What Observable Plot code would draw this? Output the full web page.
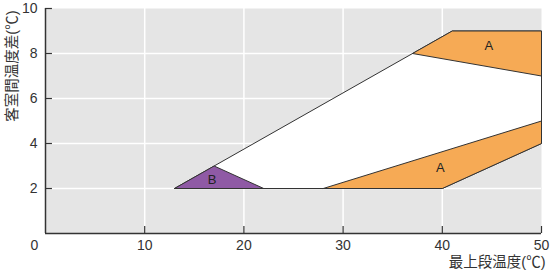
<!DOCTYPE html>
<html><head><meta charset="utf-8">
<script src="https://cdn.jsdelivr.net/npm/d3@7"></script>
<script src="https://cdn.jsdelivr.net/npm/@observablehq/plot@0.6"></script>
<style>
body{margin:0;background:#fff;}
svg{font-family:"Liberation Sans","Noto Sans CJK JP",sans-serif;}
</style></head>
<body><div id="chart"></div>
<script>
const xTicks = [10, 20, 30, 40, 50];
const yTicks = [2, 4, 6, 8, 10];
const xGrid = [10, 20, 30, 40];
const yGrid = [2, 4, 6, 8];
const xLabel = "最上段温度(℃)";
const yLabel = "客室間温度差(℃)";

// polygons: [x list, y list]
const regionWhiteX = [13, 41, 50, 50, 40, 13];
const regionWhiteY = [2, 9, 9, 4, 2, 2];
const regionATopX = [37, 41, 50, 50, 37];
const regionATopY = [8, 9, 9, 7, 8];
const regionABotX = [28, 40, 50, 50, 28];
const regionABotY = [2, 2, 4, 5, 2];
const regionBX = [13, 17, 22, 13];
const regionBY = [2, 3, 2, 2];

const labelNames = ["A", "A", "B"];
const labelX = [44.7, 39.8, 16.8];
const labelY = [8.35, 2.9, 2.4];

const pts = (xs, ys) => xs.map((x, i) => ({x, y: ys[i]}));
const labels = labelNames.map((t, i) => ({t, x: labelX[i], y: labelY[i]}));

const poly = (xs, ys, fill) => Plot.line(pts(xs, ys), {x: "x", y: "y", fill, stroke: "#333", strokeWidth: 1, curve: "linear"});

const chart = Plot.plot({
  width: 550, height: 272,
  marginLeft: 45, marginRight: 9, marginTop: 8, marginBottom: 39,
  x: {domain: [0, 50], axis: null},
  y: {domain: [0, 10], axis: null},
  marks: [
    Plot.frame({fill: "#e5e5e5", stroke: "none"}),
    Plot.gridY(yGrid, {stroke: "#fff", strokeOpacity: 1, strokeWidth: 1.5}),
    Plot.gridX(xGrid, {stroke: "#fff", strokeOpacity: 1, strokeWidth: 1.5}),
    poly(regionWhiteX, regionWhiteY, "#fff"),
    poly(regionATopX, regionATopY, "#f6aa55"),
    poly(regionABotX, regionABotY, "#f6aa55"),
    poly(regionBX, regionBY, "#8f5aa5"),
    Plot.text(labels, {x: "x", y: "y", text: "t", fontSize: 13, fill: "#222"}),
    Plot.ruleX([0], {stroke: "#333", strokeWidth: 1.5}),
    Plot.ruleY([0], {stroke: "#333", strokeWidth: 1.5}),
    Plot.ruleY(yTicks, {y: d => d, x1: 0, x2: 0.7, stroke: "#333", strokeWidth: 1.2}),
    Plot.ruleX(xTicks, {x: d => d, y1: 0, y2: 0.31, stroke: "#333", strokeWidth: 1.2}),
    Plot.text(yTicks, {x: 0, y: d => d, text: d => String(d), textAnchor: "end", dx: -8, fontSize: 14, fill: "#333"}),
    Plot.text(xTicks, {x: d => d, y: 0, text: d => String(d), dy: 12, fontSize: 14, fill: "#333"}),
    Plot.text(["0"], {x: 0, y: 0, text: d => d, dx: -11, dy: 12, fontSize: 14, fill: "#333"}),
    Plot.text([xLabel], {x: 50, y: 0, text: d => d, textAnchor: "end", dx: 4, dy: 29, fontSize: 14.5, fill: "#333"}),
    Plot.text([yLabel], {x: 0, y: 10, text: d => d, rotate: -90, textAnchor: "end", dx: -33, dy: 2, fontSize: 14.5, fill: "#333"})
  ]
});
document.getElementById("chart").appendChild(chart);
</script>
</body></html>
